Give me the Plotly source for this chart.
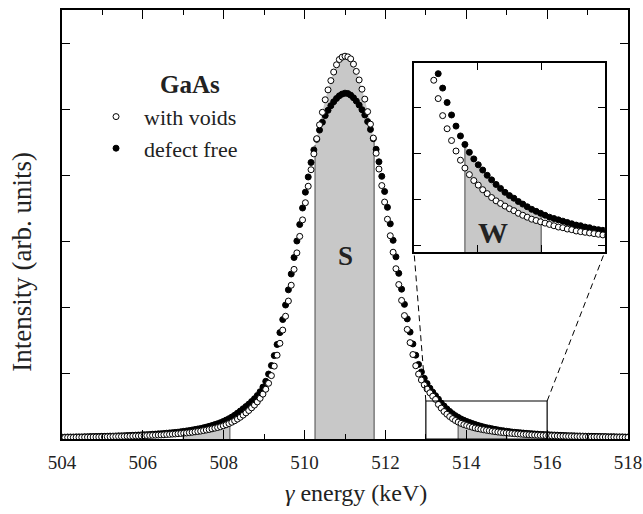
import numpy as np
import plotly.graph_objects as go

# ---- spectrum data: channel energies (keV) and counts (arb. units) ----
energy = [
    504.00, 504.07, 504.14, 504.21, 504.28, 504.35, 504.42, 504.49, 504.56, 504.63,
    504.70, 504.77, 504.84, 504.91, 504.98, 505.05, 505.12, 505.19, 505.26, 505.33,
    505.40, 505.47, 505.54, 505.61, 505.68, 505.75, 505.82, 505.89, 505.96, 506.03,
    506.10, 506.17, 506.24, 506.31, 506.38, 506.45, 506.52, 506.59, 506.66, 506.73,
    506.80, 506.87, 506.94, 507.01, 507.08, 507.15, 507.22, 507.29, 507.36, 507.43,
    507.50, 507.57, 507.64, 507.71, 507.78, 507.85, 507.92, 507.99, 508.06, 508.13,
    508.20, 508.27, 508.34, 508.41, 508.48, 508.55, 508.62, 508.69, 508.76, 508.83,
    508.90, 508.97, 509.04, 509.11, 509.18, 509.25, 509.32, 509.39, 509.46, 509.53,
    509.60, 509.67, 509.74, 509.81, 509.88, 509.95, 510.02, 510.09, 510.16, 510.23,
    510.30, 510.37, 510.44, 510.51, 510.58, 510.65, 510.72, 510.79, 510.86, 510.93,
    511.00,
    511.07, 511.14, 511.21, 511.28, 511.35, 511.42, 511.49, 511.56, 511.63, 511.70,
    511.77, 511.84, 511.91, 511.98, 512.05, 512.12, 512.19, 512.26, 512.33, 512.40,
    512.47, 512.54, 512.61, 512.68, 512.75, 512.82, 512.89, 512.96, 513.03, 513.10,
    513.17, 513.24, 513.31, 513.38, 513.45, 513.52, 513.59, 513.66, 513.73, 513.80,
    513.87, 513.94, 514.01, 514.08, 514.15, 514.22, 514.29, 514.36, 514.43, 514.50,
    514.57, 514.64, 514.71, 514.78, 514.85, 514.92, 514.99, 515.06, 515.13, 515.20,
    515.27, 515.34, 515.41, 515.48, 515.55, 515.62, 515.69, 515.76, 515.83, 515.90,
    515.97, 516.04, 516.11, 516.18, 516.25, 516.32, 516.39, 516.46, 516.53, 516.60,
    516.67, 516.74, 516.81, 516.88, 516.95, 517.02, 517.09, 517.16, 517.23, 517.30,
    517.37, 517.44, 517.51, 517.58, 517.65, 517.72, 517.79, 517.86, 517.93, 518.00,
]

with_voids = [
    0.011, 0.011, 0.012, 0.012, 0.012, 0.013, 0.013, 0.013, 0.014, 0.014,
    0.014, 0.015, 0.015, 0.015, 0.016, 0.016, 0.017, 0.017, 0.018, 0.018,
    0.019, 0.019, 0.020, 0.021, 0.021, 0.022, 0.023, 0.023, 0.024, 0.025,
    0.026, 0.027, 0.028, 0.029, 0.030, 0.031, 0.032, 0.034, 0.035, 0.037,
    0.038, 0.040, 0.042, 0.044, 0.046, 0.048, 0.051, 0.054, 0.057, 0.060,
    0.064, 0.068, 0.072, 0.077, 0.082, 0.087, 0.093, 0.100, 0.108, 0.117,
    0.127, 0.138, 0.151, 0.165, 0.181, 0.198, 0.216, 0.236, 0.257, 0.281,
    0.308, 0.340, 0.377, 0.422, 0.480, 0.552, 0.635, 0.725, 0.825, 0.930,
    1.045, 1.165, 1.285, 1.410, 1.535, 1.660, 1.790, 1.915, 2.040, 2.160,
    2.275, 2.380, 2.475, 2.570, 2.645, 2.715, 2.780, 2.835, 2.875, 2.893,
    2.900,
    2.895, 2.880, 2.840, 2.785, 2.720, 2.650, 2.575, 2.480, 2.385, 2.280,
    2.165, 2.045, 1.920, 1.795, 1.665, 1.540, 1.415, 1.290, 1.170, 1.050,
    0.935, 0.830, 0.730, 0.640, 0.555, 0.492, 0.447, 0.410, 0.378, 0.350,
    0.324, 0.300, 0.262, 0.234, 0.208, 0.188, 0.170, 0.154, 0.140, 0.128,
    0.118, 0.109, 0.102, 0.095, 0.089, 0.083, 0.078, 0.074, 0.070, 0.066,
    0.063, 0.059, 0.056, 0.053, 0.050, 0.048, 0.046, 0.044, 0.042, 0.040,
    0.038, 0.037, 0.035, 0.034, 0.032, 0.031, 0.030, 0.029, 0.028, 0.027,
    0.026, 0.025, 0.024, 0.024, 0.023, 0.022, 0.022, 0.021, 0.020, 0.020,
    0.019, 0.019, 0.018, 0.018, 0.017, 0.017, 0.016, 0.016, 0.016, 0.015,
    0.015, 0.015, 0.014, 0.014, 0.014, 0.013, 0.013, 0.013, 0.012, 0.012,
]

defect_free = [
    0.014, 0.014, 0.015, 0.015, 0.015, 0.016, 0.016, 0.016, 0.017, 0.017,
    0.018, 0.018, 0.019, 0.019, 0.020, 0.020, 0.021, 0.022, 0.022, 0.023,
    0.024, 0.024, 0.025, 0.026, 0.027, 0.028, 0.029, 0.030, 0.031, 0.032,
    0.033, 0.034, 0.036, 0.037, 0.039, 0.040, 0.042, 0.044, 0.046, 0.048,
    0.050, 0.052, 0.055, 0.058, 0.061, 0.064, 0.068, 0.072, 0.076, 0.080,
    0.085, 0.090, 0.096, 0.102, 0.109, 0.116, 0.124, 0.133, 0.143, 0.154,
    0.166, 0.180, 0.196, 0.212, 0.229, 0.246, 0.264, 0.284, 0.305, 0.329,
    0.358, 0.393, 0.437, 0.492, 0.557, 0.632, 0.716, 0.806, 0.905, 1.015,
    1.130, 1.250, 1.375, 1.500, 1.625, 1.750, 1.870, 1.985, 2.095, 2.190,
    2.270, 2.340, 2.400, 2.450, 2.490, 2.525, 2.555, 2.580, 2.600, 2.613,
    2.620,
    2.617, 2.605, 2.585, 2.560, 2.530, 2.495, 2.455, 2.405, 2.345, 2.275,
    2.195, 2.100, 1.990, 1.875, 1.755, 1.630, 1.505, 1.380, 1.255, 1.135,
    1.020, 0.910, 0.810, 0.720, 0.635, 0.565, 0.508, 0.460, 0.420, 0.385,
    0.355, 0.328, 0.302, 0.272, 0.250, 0.228, 0.209, 0.192, 0.177, 0.164,
    0.152, 0.142, 0.133, 0.125, 0.117, 0.110, 0.103, 0.097, 0.091, 0.086,
    0.082, 0.077, 0.073, 0.069, 0.065, 0.062, 0.059, 0.056, 0.053, 0.051,
    0.049, 0.047, 0.045, 0.043, 0.041, 0.040, 0.038, 0.037, 0.035, 0.034,
    0.033, 0.032, 0.031, 0.030, 0.029, 0.028, 0.027, 0.026, 0.025, 0.025,
    0.024, 0.023, 0.023, 0.022, 0.021, 0.021, 0.020, 0.020, 0.019, 0.019,
    0.018, 0.018, 0.017, 0.017, 0.017, 0.016, 0.016, 0.016, 0.015, 0.015,
]

# integration windows (keV) for the S and W line-shape parameters
s_window = (510.26, 511.72)
w_windows = [(507.00, 508.15), (513.80, 515.00)]

# magnified region shown in the inset
zoom_x = (513.0, 516.0)
zoom_y = (0.0, 0.288)

# axis ranges
x_range = (504, 518)
y_range = (0, 3.25)

SERIF = "Liberation Serif"
INK = "#222222"
FILL = "#c8c8c8"
EDGE = "#7a7a7a"

x = np.array(energy)
env = np.maximum(np.array(with_voids), np.array(defect_free))


def window_traces(lo, hi, xa="x", ya="y"):
    """Grey area under the upper envelope between lo and hi, plus its edges."""
    inside = (x > lo) & (x < hi)
    y_lo = float(np.interp(lo, x, env))
    y_hi = float(np.interp(hi, x, env))
    px = [lo, lo] + list(x[inside]) + [hi, hi]
    py = [0, y_lo] + list(env[inside]) + [y_hi, 0]
    area = go.Scatter(x=px, y=py, fill="toself", fillcolor=FILL, mode="none",
                      hoverinfo="skip", showlegend=False, xaxis=xa, yaxis=ya)
    edges = go.Scatter(x=[lo, lo, None, hi, hi], y=[0, y_lo, None, 0, y_hi],
                       mode="lines", line=dict(color=EDGE, width=1.5),
                       hoverinfo="skip", showlegend=False, xaxis=xa, yaxis=ya)
    return [area, edges]


fig = go.Figure()

# shaded windows in the main panel
for lo, hi in [s_window] + w_windows:
    for tr in window_traces(lo, hi):
        fig.add_trace(tr)

# shaded W window in the inset
for tr in window_traces(*w_windows[1], xa="x2", ya="y2"):
    fig.add_trace(tr)

marker_filled = dict(symbol="circle", size=6, color="black",
                     line=dict(color="black", width=1))
marker_open = dict(symbol="circle", size=6, color="white",
                   line=dict(color="black", width=1))

for xa, ya, show in [("x", "y", True), ("x2", "y2", False)]:
    fig.add_trace(go.Scatter(x=energy, y=defect_free, mode="markers",
                             name="defect free", marker=marker_filled,
                             showlegend=show, legendrank=2, xaxis=xa, yaxis=ya))
    fig.add_trace(go.Scatter(x=energy, y=with_voids, mode="markers",
                             name="with voids", marker=marker_open,
                             showlegend=show, legendrank=1, xaxis=xa, yaxis=ya))

# inset placement (paper fractions)
inset_dx = (0.622, 0.959)
inset_dy = (0.436, 0.876)

axis_common = dict(showline=True, linecolor="black", linewidth=1.5,
                   mirror="ticks", ticks="inside", tickcolor="black",
                   showgrid=False, zeroline=False, automargin=False)

fig.update_layout(
    width=643, height=514,
    margin=dict(l=62, r=15, t=10, b=75, autoexpand=False),
    paper_bgcolor="white", plot_bgcolor="white",
    font=dict(family=SERIF, color=INK),
    xaxis=dict(range=list(x_range), tick0=504, dtick=2, ticklen=9, tickwidth=1.2,
               minor=dict(dtick=1, ticks="inside", ticklen=5, tickwidth=1.2,
                          tickcolor="black"),
               tickfont=dict(family=SERIF, size=19, color=INK),
               ticklabelstandoff=5, **axis_common),
    yaxis=dict(range=list(y_range), dtick=0.5, ticklen=8, tickwidth=1.2,
               showticklabels=False, **axis_common),
    xaxis2=dict(domain=list(inset_dx), anchor="y2", range=list(zoom_x),
                tick0=514, dtick=1, ticklen=7, tickwidth=1.2,
                showticklabels=False, **axis_common),
    yaxis2=dict(domain=list(inset_dy), anchor="x2", range=list(zoom_y),
                tick0=0.01, dtick=0.07, ticklen=7, tickwidth=1.2,
                showticklabels=False, **axis_common),
    legend=dict(x=0.046, y=0.80, xanchor="left", yanchor="top",
                bgcolor="rgba(0,0,0,0)", itemwidth=46,
                font=dict(family=SERIF, size=22, color=INK),
                itemsizing="trace", tracegroupgap=0),
    showlegend=True,
)

# box marking the magnified region
fig.add_shape(type="rect", xref="x", yref="y",
              x0=zoom_x[0], x1=zoom_x[1], y0=zoom_y[0], y1=zoom_y[1],
              line=dict(color="black", width=1.2))


def to_paper(xv, yv):
    px = (xv - x_range[0]) / (x_range[1] - x_range[0])
    py = (yv - y_range[0]) / (y_range[1] - y_range[0])
    return px, py


# dashed connectors from the box to the inset
for xv, inset_x in [(zoom_x[0], inset_dx[0]), (zoom_x[1], inset_dx[1])]:
    bx, by = to_paper(xv, zoom_y[1])
    fig.add_shape(type="line", xref="paper", yref="paper",
                  x0=bx, y0=by, x1=inset_x, y1=inset_dy[0],
                  line=dict(color="black", width=1, dash="6px,4px"))

# labels
centred = dict(showarrow=False, xanchor="center", yanchor="middle")
fig.add_annotation(x=511.02, y=1.39, xref="x", yref="y", text="<b>S</b>",
                   font=dict(family=SERIF, size=27, color=INK), **centred)
fig.add_annotation(x=514.24, y=0.029, xref="x2", yref="y2", text="<b>W</b>",
                   font=dict(family=SERIF, size=30, color=INK), **centred)
fig.add_annotation(x=0.226, y=0.8275, xref="paper", yref="paper", text="<b>GaAs</b>",
                   font=dict(family=SERIF, size=25, color=INK), **centred)
fig.add_annotation(x=0.519, y=-0.126, xref="paper", yref="paper",
                   text="<i>γ</i> energy (keV)",
                   font=dict(family=SERIF, size=24, color=INK), **centred)
fig.add_annotation(x=-0.071, y=0.413, xref="paper", yref="paper",
                   text="Intensity (arb. units)", textangle=-90,
                   font=dict(family=SERIF, size=27, color=INK), **centred)

fig.write_html("out.html")
